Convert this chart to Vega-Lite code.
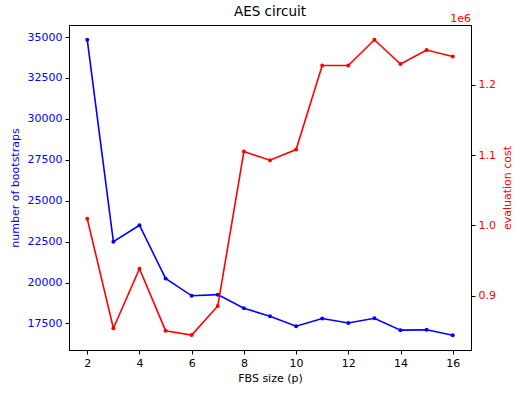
{
  "$schema": "https://vega.github.io/schema/vega-lite/v6.json",
  "width": 402,
  "height": 325,
  "autosize": {"type": "none"},
  "padding": {"left": 69, "top": 25, "right": 50, "bottom": 46},
  "background": "white",
  "config": {
    "font": "DejaVu Sans",
    "view": {"stroke": "black", "strokeWidth": 1},
    "axis": {
      "grid": false,
      "domainColor": "black",
      "tickColor": "black",
      "tickSize": 4,
      "labelFontSize": 11,
      "titleFontSize": 11,
      "titleFontWeight": "normal",
      "labelPadding": 3
    }
  },
  "title": {"text": "AES circuit", "fontSize": 13.5, "fontWeight": "normal", "font": "DejaVu Sans", "offset": 6, "dy": 11, "color": "black"},
  "data": {
    "values": [
      {"p": 2, "bootstraps": 34830, "cost": 1009300},
      {"p": 3, "bootstraps": 22500, "cost": 853600},
      {"p": 4, "bootstraps": 23500, "cost": 938400},
      {"p": 5, "bootstraps": 20250, "cost": 850200},
      {"p": 6, "bootstraps": 19190, "cost": 844000},
      {"p": 7, "bootstraps": 19260, "cost": 885300},
      {"p": 8, "bootstraps": 18430, "cost": 1105000},
      {"p": 9, "bootstraps": 17940, "cost": 1092800},
      {"p": 10, "bootstraps": 17330, "cost": 1107900},
      {"p": 11, "bootstraps": 17800, "cost": 1227500},
      {"p": 12, "bootstraps": 17530, "cost": 1227500},
      {"p": 13, "bootstraps": 17820, "cost": 1264100},
      {"p": 14, "bootstraps": 17090, "cost": 1229500},
      {"p": 15, "bootstraps": 17110, "cost": 1249400},
      {"p": 16, "bootstraps": 16780, "cost": 1240300}
    ]
  },
  "encoding": {
    "x": {
      "field": "p",
      "type": "quantitative",
      "scale": {"domain": [1.3, 16.7], "nice": false, "zero": false},
      "axis": {"title": "FBS size (p)", "values": [2, 4, 6, 8, 10, 12, 14, 16], "titlePadding": 4, "labelColor": "black", "titleColor": "black"}
    }
  },
  "layer": [
    {
      "mark": {"type": "line", "color": "#0000ff", "strokeWidth": 1.6, "point": {"color": "#0000ff", "size": 16, "filled": true}},
      "encoding": {
        "y": {
          "field": "bootstraps",
          "type": "quantitative",
          "scale": {"domain": [15878, 35738], "nice": false, "zero": false},
          "axis": {
            "orient": "left",
            "title": "number of bootstraps",
            "values": [17500, 20000, 22500, 25000, 27500, 30000, 32500, 35000],
            "format": "d",
            "labelColor": "#0000ff",
            "titleColor": "#0000ff",
            "titlePadding": 7
          }
        }
      }
    },
    {
      "layer": [
        {
          "mark": {"type": "line", "color": "#ff0000", "strokeWidth": 1.6, "point": {"color": "#ff0000", "size": 16, "filled": true}},
          "encoding": {
            "y": {
              "field": "cost",
              "type": "quantitative",
              "scale": {"domain": [822700, 1285100], "nice": false, "zero": false},
              "axis": {
                "orient": "right",
                "title": "evaluation cost",
                "values": [900000, 1000000, 1100000, 1200000],
                "labelExpr": "format(datum.value / 1000000, '.1f')",
                "labelColor": "#ff0000",
                "titleColor": "#ff0000",
                "titleAngle": 270,
                "titleBaseline": "top",
                "titlePadding": 6
              }
            }
          }
        },
        {
          "transform": [{"filter": "datum.p == 16"}],
          "mark": {"type": "text", "text": "1e6", "color": "#ff0000", "fontSize": 11, "align": "right", "baseline": "alphabetic", "dy": -3},
          "encoding": {
            "x": {"datum": 16.7, "type": "quantitative"},
            "y": {"datum": 1285100, "type": "quantitative"}
          }
        }
      ]
    }
  ],
  "resolve": {"scale": {"y": "independent"}}
}
